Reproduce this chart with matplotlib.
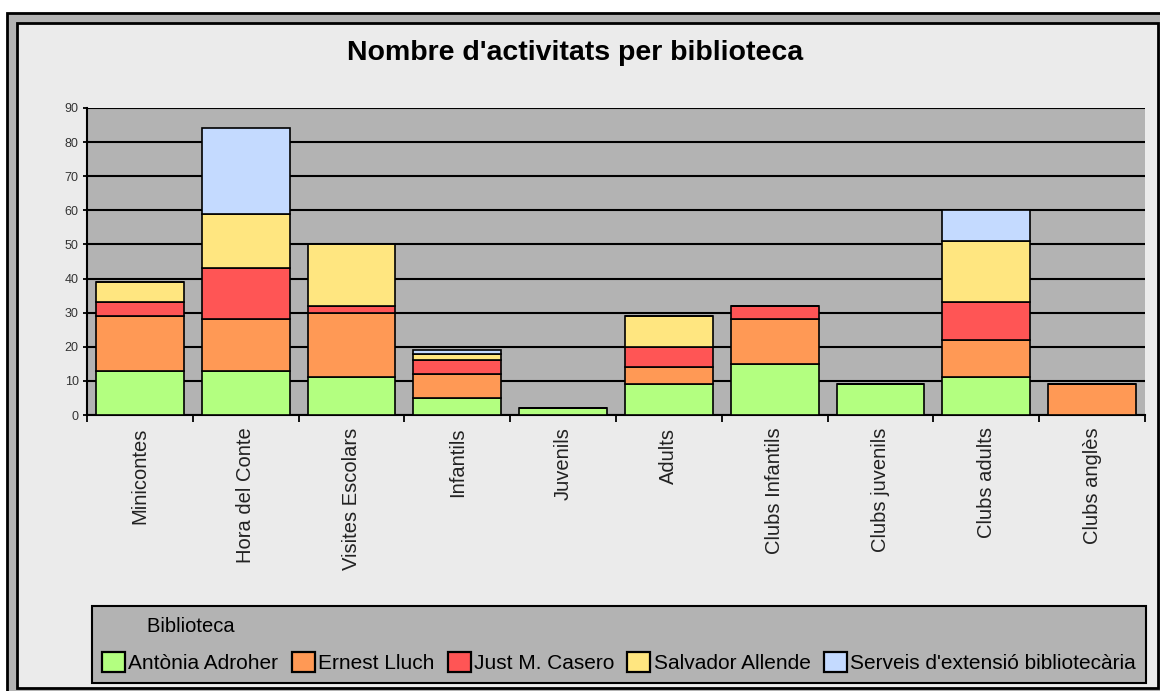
import numpy as np
import matplotlib.pyplot as plt
from matplotlib.patches import Rectangle

# Dades llegides del gràfic
categories = ['Minicontes', 'Hora del Conte', 'Visites Escolars', 'Infantils', 'Juvenils',
              'Adults', 'Clubs Infantils', 'Clubs juvenils', 'Clubs adults', 'Clubs anglès']
antonia = [13, 13, 11, 5, 2, 9, 15, 9, 11, 0]
ernest = [16, 15, 19, 7, 0, 5, 13, 0, 11, 9]
just = [4, 15, 2, 4, 0, 6, 4, 0, 11, 0]
salvador = [6, 16, 18, 2, 0, 9, 0, 0, 18, 0]
serveis = [0, 25, 0, 1, 0, 0, 0, 0, 9, 0]

series_names = ['Antònia Adroher', 'Ernest Lluch', 'Just M. Casero', 'Salvador Allende',
                "Serveis d'extensió bibliotecària"]
series_vals = [antonia, ernest, just, salvador, serveis]
colors = ['#b3ff80', '#ff9955', '#ff5555', '#ffe680', '#c4daff']

W, H = 1160, 691
plt.rcParams['font.family'] = ['Liberation Sans', 'DejaVu Sans']
fig = plt.figure(figsize=(W / 100, H / 100), dpi=100, facecolor='white')

# Marc exterior
fig.patches.append(Rectangle((7 / W, 1 - 700 / H), 1170 / W, 687 / H, transform=fig.transFigure,
                             facecolor='#b3b3b3', edgecolor='black', lw=2, zorder=-2))
fig.patches.append(Rectangle((17 / W, 1 - 688 / H), 1141 / W, 665 / H, transform=fig.transFigure,
                             facecolor='#ebebeb', edgecolor='black', lw=2, zorder=-1))

ax = fig.add_axes([87 / W, 1 - 415 / H, (1145 - 87) / W, (415 - 108) / H])
ax.set_facecolor('#b3b3b3')

x = np.arange(len(categories))
bottom = np.zeros(len(categories))
handles = []
for name, vals, c in zip(series_names, series_vals, colors):
    vals = np.array(vals, dtype=float)
    b = ax.bar(x, vals, 0.83, bottom=bottom, color=c, edgecolor='black', linewidth=1.2,
               label=name, zorder=3)
    handles.append(b)
    bottom += vals

ax.set_xlim(-0.5, len(categories) - 0.5)
ax.set_ylim(0, 90)
ax.set_yticks(range(0, 91, 10))
ax.yaxis.grid(True, color='black', linewidth=1.5, zorder=1)
ax.set_axisbelow(True)
for s in ['top', 'right']:
    ax.spines[s].set_visible(False)
for s in ['left', 'bottom']:
    ax.spines[s].set_linewidth(1.5)

ax.set_xticks(x)
ax.set_xticklabels(categories, rotation=90, fontsize=14.5, color='#222222', va='top')
ax.set_xticks(np.arange(-0.5, len(categories)), minor=True)
ax.tick_params(axis='x', which='major', length=0, pad=9)
ax.tick_params(axis='x', which='minor', length=5, width=1.3, direction='out')
ax.tick_params(axis='y', length=3, width=1.3, labelsize=9, labelcolor='#333333', pad=3)

fig.text(575 / W, 1 - 53 / H, "Nombre d'activitats per biblioteca", ha='center', va='center',
         fontsize=20.5, fontweight='bold')

leg = fig.legend(handles=handles, labels=series_names, ncol=5, loc='lower left',
                 bbox_to_anchor=(92 / W, 1 - 683 / H, (1146 - 92) / W, (683 - 606) / H),
                 mode='expand', title='        Biblioteca', alignment='left',
                 fontsize=15, title_fontsize=14.5, frameon=True, fancybox=False,
                 facecolor='#b3b3b3', edgecolor='black', framealpha=1,
                 handlelength=1.1, handleheight=1.1, handletextpad=0.15,
                 borderpad=0.5, borderaxespad=0, columnspacing=0.4, labelspacing=0.75)
leg.get_frame().set_linewidth(1.5)
for p in leg.legend_handles:
    p.set_linewidth(1.6)

fig.savefig('out.png', dpi=100, facecolor='white')
